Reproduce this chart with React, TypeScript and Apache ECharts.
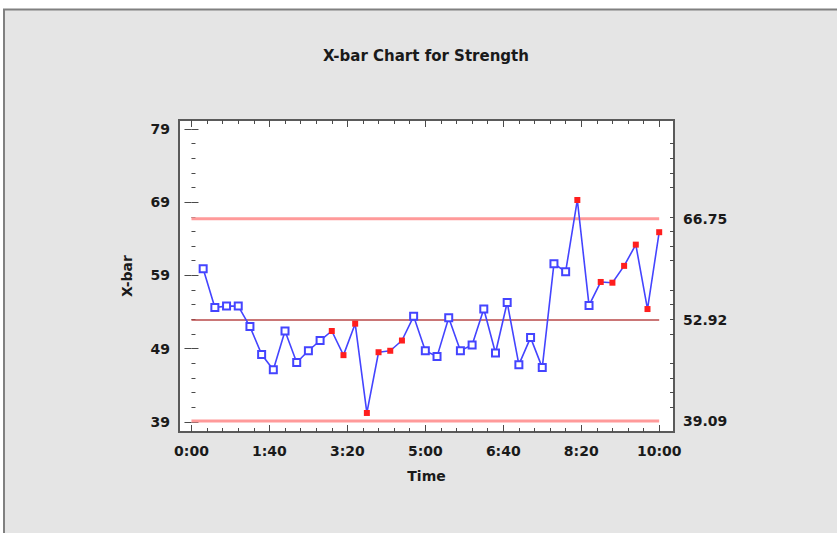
import { useEffect, useRef } from "react";
import * as echarts from "echarts";

// Subgroup times (seconds) and subgroup means
const sampleTimes = [
  15, 30, 45, 60, 75, 90, 105, 120, 135, 150,
  165, 180, 195, 210, 225, 240, 255, 270, 285, 300,
  315, 330, 345, 360, 375, 390, 405, 420, 435, 450,
  465, 480, 495, 510, 525, 540, 555, 570, 585, 600,
];
const xbarValues = [
  59.9, 54.6, 54.8, 54.8, 52.0, 48.2, 46.1, 51.4, 47.1, 48.7,
  50.1, 51.4, 48.1, 52.4, 40.2, 48.5, 48.7, 50.1, 53.4, 48.7,
  47.9, 53.2, 48.7, 49.5, 54.4, 48.4, 55.3, 46.8, 50.5, 46.4,
  60.6, 59.5, 69.3, 54.9, 58.1, 58.0, 60.3, 63.2, 54.4, 64.9,
];
// Sample numbers (1-based) flagged by the run / limit rules
const flaggedSamples = [12, 13, 14, 15, 16, 17, 18, 33, 35, 36, 37, 38, 39, 40];

const UCL = 66.75;
const CL = 52.92;
const LCL = 39.09;
const limitLabels = [LCL, CL, UCL];

const timeMajorTicks = [0, 100, 200, 300, 400, 500, 600];
const timeMinorTicks = [
  20, 40, 60, 80, 120, 140, 160, 180, 220, 240, 260, 280,
  320, 340, 360, 380, 420, 440, 460, 480, 520, 540, 560, 580,
];
const xbarMajorTicks = [39, 49, 59, 69, 79];
const xbarMinorTicks = [
  41, 43, 45, 47, 51, 53, 55, 57, 61, 63, 65, 67, 71, 73, 75, 77,
];

const X_MIN = -16;
const X_MAX = 619;
const Y_MIN = 37.6;
const Y_MAX = 80.23;

const FONT = "DejaVu Sans";
const TEXT_COLOR = "#1a1a1a";
const TICK_COLOR = "#4a4a4a";
const DATA_BLUE = "#4444ff";

function formatTime(v: number): string {
  const m = Math.floor(v / 60);
  const s = Math.round(v - m * 60);
  return `${m}:${String(s).padStart(2, "0")}`;
}

const labelStyle = {
  fontFamily: FONT,
  fontWeight: "bold" as const,
  fontSize: 14,
  color: TEXT_COLOR,
};

function tickAxis(
  kind: "x" | "y",
  position: string,
  values: number[],
  length: number
) {
  return {
    type: "value",
    position,
    min: kind === "x" ? X_MIN : Y_MIN,
    max: kind === "x" ? X_MAX : Y_MAX,
    axisLine: { show: false },
    splitLine: { show: false },
    axisTick: {
      show: true,
      inside: true,
      length,
      customValues: values,
      lineStyle: { color: TICK_COLOR, width: 1 },
    },
    axisLabel: { show: false },
  };
}

export default function App() {
  const ref = useRef<HTMLDivElement>(null);

  useEffect(() => {
    if (!ref.current) return;
    const chart = echarts.init(ref.current, null, { renderer: "svg" });

    const points = sampleTimes.map((t, i) => {
      const flagged = flaggedSamples.includes(i + 1);
      return flagged
        ? {
            value: [t, xbarValues[i]],
            symbol: "rect",
            symbolSize: 6,
            itemStyle: { color: "#ff1e1e", borderColor: "#ff1e1e", borderWidth: 0 },
          }
        : { value: [t, xbarValues[i]] };
    });

    const limitLine = (v: number, color: string, width: number) => ({
      type: "line",
      xAxisIndex: 0,
      yAxisIndex: 0,
      data: [
        [timeMajorTicks[0], v],
        [timeMajorTicks[timeMajorTicks.length - 1], v],
      ],
      symbol: "none",
      silent: true,
      lineStyle: { color, width },
    });

    chart.setOption({
      animation: false,
      backgroundColor: "#ffffff",
      title: {
        text: "X-bar Chart for Strength",
        left: 318,
        top: 43,
        textStyle: {
          fontFamily: FONT,
          fontWeight: "bold",
          fontSize: 15,
          color: TEXT_COLOR,
        },
      },
      graphic: [
        {
          type: "rect",
          z: -10,
          shape: { x: 3, y: 9, width: 834, height: 524 },
          style: { fill: "#e5e5e5" },
        },
        {
          type: "line",
          z: -9,
          shape: { x1: 3, y1: 9.5, x2: 837, y2: 9.5 },
          style: { stroke: "#808080", lineWidth: 2 },
        },
        {
          type: "line",
          z: -9,
          shape: { x1: 4, y1: 9, x2: 4, y2: 533 },
          style: { stroke: "#808080", lineWidth: 2 },
        },
      ],
      grid: {
        left: 179,
        top: 120,
        width: 495,
        height: 312,
        show: true,
        backgroundColor: "#ffffff",
        borderColor: "#5a5a5a",
        borderWidth: 2,
      },
      xAxis: [
        {
          type: "value",
          position: "bottom",
          min: X_MIN,
          max: X_MAX,
          axisLine: { show: false },
          splitLine: { show: false },
          axisTick: {
            show: true,
            inside: true,
            length: 7,
            customValues: timeMajorTicks,
            lineStyle: { color: TICK_COLOR, width: 1 },
          },
          axisLabel: {
            ...labelStyle,
            customValues: timeMajorTicks,
            formatter: (v: number) => formatTime(v),
            margin: 12,
          },
          name: "Time",
          nameLocation: "middle",
          nameGap: 37,
          nameTextStyle: labelStyle,
        },
        tickAxis("x", "bottom", timeMinorTicks, 4),
        tickAxis("x", "top", timeMajorTicks, 7),
        tickAxis("x", "top", timeMinorTicks, 4),
      ],
      yAxis: [
        {
          type: "value",
          position: "left",
          min: Y_MIN,
          max: Y_MAX,
          axisLine: { show: false },
          splitLine: { show: false },
          axisTick: {
            show: true,
            inside: true,
            length: 7,
            customValues: xbarMajorTicks,
            lineStyle: { color: TICK_COLOR, width: 1 },
          },
          axisLabel: {
            ...labelStyle,
            customValues: xbarMajorTicks,
            margin: 9,
          },
          name: "X-bar",
          nameLocation: "middle",
          nameGap: 45,
          nameRotate: 90,
          nameTextStyle: labelStyle,
        },
        tickAxis("y", "left", xbarMinorTicks, 4),
        {
          type: "value",
          position: "right",
          min: Y_MIN,
          max: Y_MAX,
          axisLine: { show: false },
          splitLine: { show: false },
          axisTick: { show: false },
          axisLabel: {
            ...labelStyle,
            customValues: limitLabels,
            formatter: (v: number) => v.toFixed(2),
            margin: 9,
          },
        },
        tickAxis("y", "right", xbarMajorTicks, 7),
        tickAxis("y", "right", xbarMinorTicks, 4),
      ],
      series: [
        limitLine(UCL, "#ff9a9a", 3),
        limitLine(LCL, "#ff9a9a", 3),
        limitLine(CL, "#b84848", 1.5),
        {
          type: "line",
          xAxisIndex: 0,
          yAxisIndex: 0,
          data: points,
          symbol: "emptyRect",
          symbolSize: 7,
          showAllSymbol: true,
          lineStyle: { color: DATA_BLUE, width: 1.6 },
          itemStyle: { color: DATA_BLUE, borderWidth: 1.5 },
          z: 5,
        },
      ],
    });

    return () => chart.dispose();
  }, []);

  return (
    <div
      ref={ref}
      style={{ position: "fixed", left: 0, top: 0, width: 837, height: 533 }}
    />
  );
}
